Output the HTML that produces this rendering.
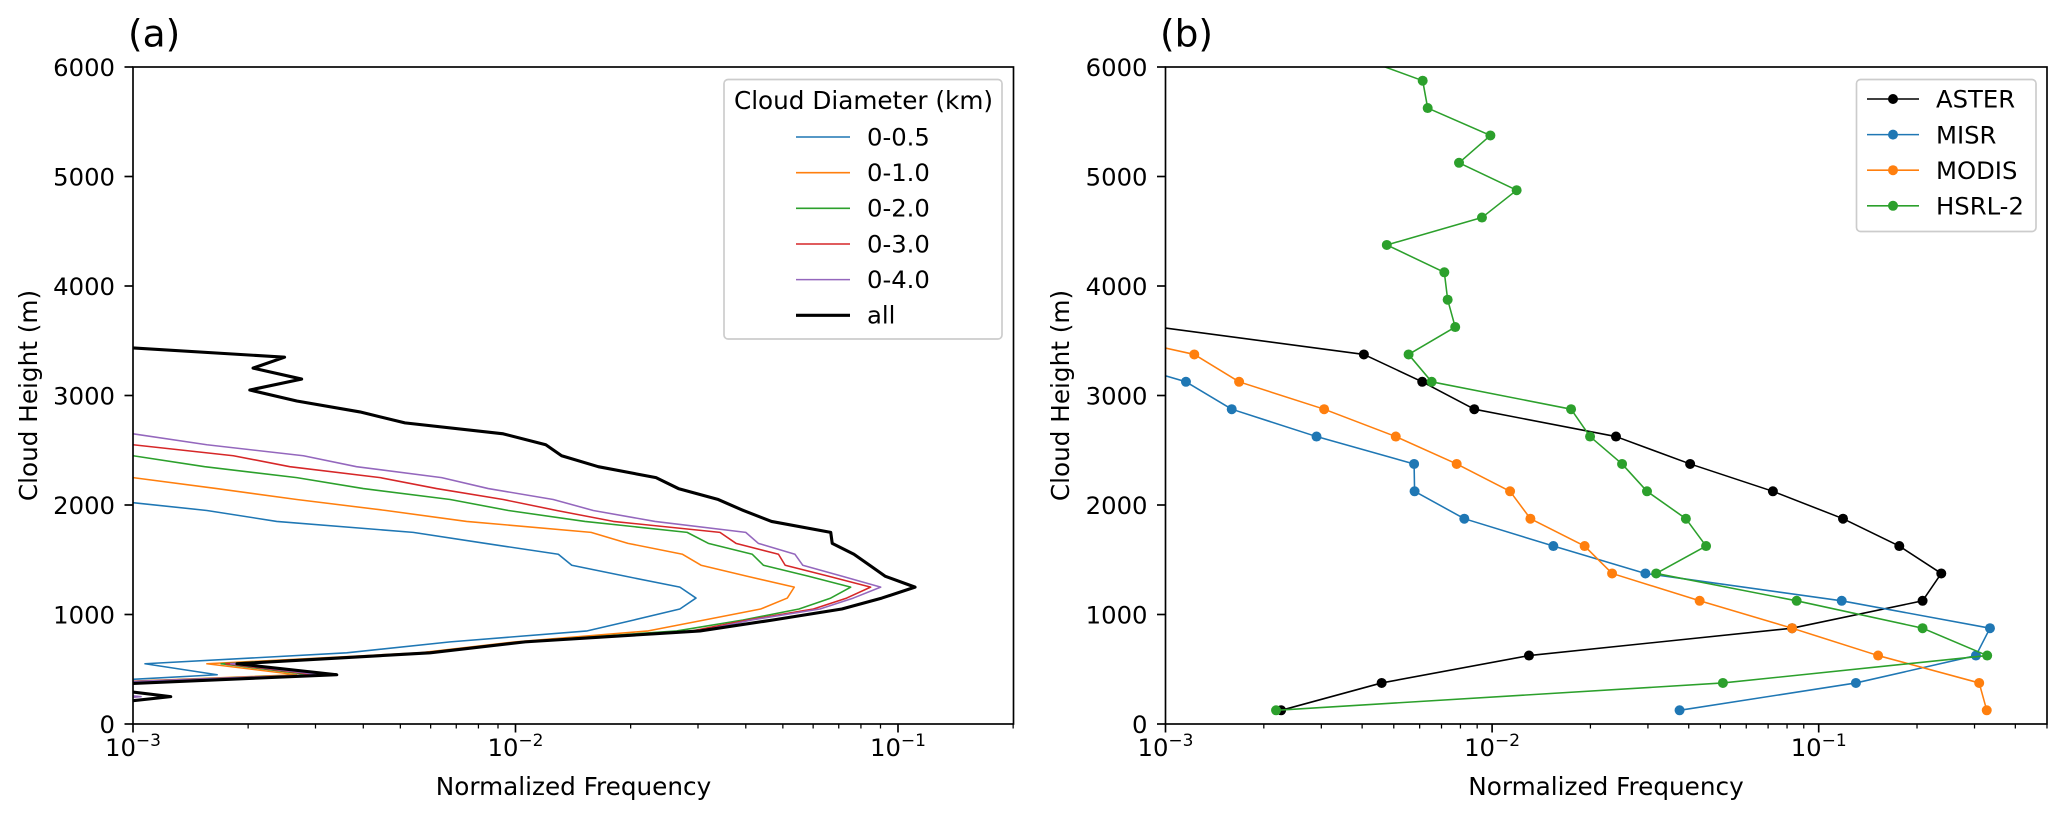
<!DOCTYPE html>
<html lang="en">
<head>
<meta charset="utf-8">
<title>Cloud height frequency distributions</title>
<style>
html,body{margin:0;padding:0;background:#fff;}
svg{display:block;}
text{font-family:"DejaVu Sans","Liberation Sans",sans-serif;fill:#000;}
</style>
</head>
<body>
<svg id="figure" xmlns="http://www.w3.org/2000/svg" width="2067" height="817" viewBox="0 0 2067 817">
  <defs>
    <clipPath id="clip-a"><rect x="133" y="67" width="880.5" height="657"/></clipPath>
    <clipPath id="clip-b"><rect x="1165.5" y="67" width="881.5" height="657"/></clipPath>
  </defs>
  <rect x="0" y="0" width="2067" height="817" fill="#fff"/>
  <g id="panel-a"></g>
  <g id="panel-b"></g>
  <text x="128" y="46.5" font-size="37.5">(a)</text>
  <text x="1160" y="46.5" font-size="37.5">(b)</text>
  <text x="573.5" y="795" font-size="24.7" text-anchor="middle">Normalized Frequency</text>
  <text x="1606" y="795" font-size="24.7" text-anchor="middle">Normalized Frequency</text>
  <text transform="translate(37,395.5) rotate(-90)" font-size="24.7" text-anchor="middle">Cloud Height (m)</text>
  <text transform="translate(1069,395.5) rotate(-90)" font-size="24.7" text-anchor="middle">Cloud Height (m)</text>

  <g>
    <rect x="724" y="79.5" width="278" height="259.5" rx="4" ry="4" fill="#fff" fill-opacity="0.8" stroke="#ccc" stroke-width="1.67"/>
    <text x="863.5" y="109" font-size="24.7" text-anchor="middle">Cloud Diameter (km)</text>
    <g><line x1="796" x2="850" y1="137" y2="137" stroke="#1f77b4" stroke-width="1.56"/><text x="867" y="145.5" font-size="24.3">0-0.5</text></g>
    <g><line x1="796" x2="850" y1="172.7" y2="172.7" stroke="#ff7f0e" stroke-width="1.56"/><text x="867" y="181" font-size="24.3">0-1.0</text></g>
    <g><line x1="796" x2="850" y1="208.3" y2="208.3" stroke="#2ca02c" stroke-width="1.56"/><text x="867" y="216.7" font-size="24.3">0-2.0</text></g>
    <g><line x1="796" x2="850" y1="244" y2="244" stroke="#d62728" stroke-width="1.56"/><text x="867" y="252.3" font-size="24.3">0-3.0</text></g>
    <g><line x1="796" x2="850" y1="279.6" y2="279.6" stroke="#9467bd" stroke-width="1.56"/><text x="867" y="288" font-size="24.3">0-4.0</text></g>
    <g><line x1="796" x2="850" y1="315.3" y2="315.3" stroke="#000" stroke-width="3.1"/><text x="867" y="323.7" font-size="24.3">all</text></g>
  </g>

  <g>
    <rect x="1856.5" y="79.5" width="179.5" height="152" rx="4" ry="4" fill="#fff" fill-opacity="0.8" stroke="#ccc" stroke-width="1.67"/>
    <g><line x1="1867" x2="1919" y1="99" y2="99" stroke="#000" stroke-width="1.56"/><circle cx="1893" cy="99" r="5" fill="#000"/><text x="1936" y="107.7" font-size="24.3">ASTER</text></g>
    <g><line x1="1867" x2="1919" y1="134.6" y2="134.6" stroke="#1f77b4" stroke-width="1.56"/><circle cx="1893" cy="134.6" r="5" fill="#1f77b4"/><text x="1936" y="143.3" font-size="24.3">MISR</text></g>
    <g><line x1="1867" x2="1919" y1="170.2" y2="170.2" stroke="#ff7f0e" stroke-width="1.56"/><circle cx="1893" cy="170.2" r="5" fill="#ff7f0e"/><text x="1936" y="178.9" font-size="24.3">MODIS</text></g>
    <g><line x1="1867" x2="1919" y1="205.8" y2="205.8" stroke="#2ca02c" stroke-width="1.56"/><circle cx="1893" cy="205.8" r="5" fill="#2ca02c"/><text x="1936" y="214.5" font-size="24.3">HSRL-2</text></g>
  </g>
</svg>
<script>
// Panel (a): height bins and frequency per cloud-diameter class (each series starts at the first bin)
const heightBinsA = [150,250,350,450,550,650,750,850,950,1050,1150,1250,1350,1450,1550,1650,1750,1850,1950,2050,2150,2250,2350,2450,2550,2650,2750,2850,2950,3050,3150,3250,3350,3450];
const freq0to05 = [.0004,.0009,.000494,.00166,.001075,.00362,.00675,.0154,.0204,.0269,.02964,.0269,.01933,.01403,.01294,.00832,.0054,.002375,.00156,.000835];
const freq0to10 = [.0004,.00101,.0005,.00268,.00156,.00563,.00997,.02224,.03117,.04375,.05136,.05356,.0402,.03055,.02733,.01968,.01576,.00745,.00459,.00268,.001655,.001,.0006];
const freq0to20 = [.0004,.00102,.0005,.0029,.0017,.0058,.01027,.0264,.03935,.0551,.0667,.0752,.0582,.04446,.0416,.03192,.0281,.01519,.00958,.00675,.004,.00268,.00154,.001,.0006];
const freq0to30 = [.0004,.00103,.0005,.00299,.00175,.0059,.0104,.02894,.04053,.0601,.0734,.0848,.0657,.0507,.0487,.0377,.03424,.01803,.01282,.00929,.00622,.00443,.00257,.00183,.001,.0006];
const freq0to40 = [.0004,.00105,.0005,.00308,.0018,.00594,.0105,.03037,.04146,.0625,.0764,.0901,.0713,.05635,.05378,.04313,.03999,.02316,.01597,.01255,.00849,.00641,.00384,.00279,.00156,.001,.0006];
const freqAll = [.000684,.001255,.000726,.00341,.00187,.00598,.01059,.03037,.0471,.0713,.0907,.1108,.0925,.0843,.0767,.0673,.0667,.0467,.0394,.0339,.02666,.0233,.01646,.0132,.012,.00929,.00514,.00392,.00268,.00202,.00276,.00206,.00249,.00085];

// Panel (b): height bins and frequency per instrument
const heightBinsB = [125,375,625,875,1125,1375,1625,1875,2125,2375,2625,2875,3125,3375,3625,3875,4125,4375,4625,4875,5125,5375,5625,5875,6125];
const freqAster = [.00226,.00459,.01297,.0829,.208,.2373,.1765,.1187,.0724,.0404,.02395,.00882,.00611,.00405,.00095];
const freqMisr = [.0375,.13,.303,.3345,.1176,.02947,.0154,.00822,.00579,.00577,.0029,.001595,.001155,.0006];
const freqModis = [.327,.31,.152,.0829,.0432,.0233,.0192,.0131,.01135,.00779,.00507,.00306,.00168,.001225,.000514];
const freqHsrl = [.00218,.0509,.328,.208,.0856,.0318,.0452,.0392,.0298,.025,.01995,.01745,.00653,.00555,.00771,.00731,.00714,.00476,.00931,.01189,.00792,.00988,.00635,.00613,.00361];

// Axis tick values
const yTicks = [0,1000,2000,3000,4000,5000,6000];
const xMajorExponents = [-3,-2,-1];
const xMinorTicksA = [.002,.003,.004,.005,.006,.007,.008,.009,.02,.03,.04,.05,.06,.07,.08,.09,.2];
const xMinorTicksB = [.002,.003,.004,.005,.006,.007,.008,.009,.02,.03,.04,.05,.06,.07,.08,.09,.2,.3,.4,.5];

const SVG_NS = 'http://www.w3.org/2000/svg';
const Y_BOTTOM = 724, Y_TOP = 67, Y_MAX = 6000;
const axisY = h => Y_BOTTOM - (Y_BOTTOM - Y_TOP) * h / Y_MAX;
const axisXA = v => 133 + 382.5 * (Math.log10(v) + 3);
const axisXB = v => 1165.5 + 326.6 * (Math.log10(v) + 3);

function make(tag, parent) {
  const el = document.createElementNS(SVG_NS, tag);
  parent.appendChild(el);
  return el;
}

function drawLine(parent, heights, values, axisX, color, width, clipId, slug, withMarkers) {
  const group = make('g', parent);
  group.setAttribute('clip-path', 'url(#' + clipId + ')');
  
  
  const pts = values.map((v, i) => axisX(v).toFixed(2) + ',' + axisY(heights[i]).toFixed(2));
  const line = make('polyline', group);
  line.setAttribute('points', pts.join(' '));
  line.setAttribute('fill', 'none');
  line.setAttribute('stroke', color);
  line.setAttribute('stroke-width', width);
  line.setAttribute('stroke-linejoin', 'round');
  
  
  if (withMarkers) {
    values.forEach((v, i) => {
      const dot = make('circle', group);
      dot.setAttribute('cx', axisX(v).toFixed(2));
      dot.setAttribute('cy', axisY(heights[i]).toFixed(2));
      dot.setAttribute('r', 5);
      dot.setAttribute('fill', color);
      
      
    });
  }
}

function drawAxes(parent, axisX, left, right, minorTicks, slug) {
  yTicks.forEach(t => {
    const y = axisY(t);
    const tick = make('line', parent);
    tick.setAttribute('x1', left - 8.5);
    tick.setAttribute('x2', left);
    tick.setAttribute('y1', y);
    tick.setAttribute('y2', y);
    tick.setAttribute('stroke', '#000');
    tick.setAttribute('stroke-width', 1.67);
    
    
    const label = make('text', parent);
    label.setAttribute('x', left - 18);
    label.setAttribute('y', y + 9);
    label.setAttribute('font-size', 24.3);
    label.setAttribute('text-anchor', 'end');
    
    
    label.textContent = String(t);
  });
  minorTicks.forEach(v => {
    const x = axisX(v);
    const tick = make('line', parent);
    tick.setAttribute('x1', x);
    tick.setAttribute('x2', x);
    tick.setAttribute('y1', Y_BOTTOM);
    tick.setAttribute('y2', Y_BOTTOM + 4.5);
    tick.setAttribute('stroke', '#000');
    tick.setAttribute('stroke-width', 1.25);
    
    
  });
  xMajorExponents.forEach(e => {
    const x = axisX(Math.pow(10, e));
    const tick = make('line', parent);
    tick.setAttribute('x1', x);
    tick.setAttribute('x2', x);
    tick.setAttribute('y1', Y_BOTTOM);
    tick.setAttribute('y2', Y_BOTTOM + 8.5);
    tick.setAttribute('stroke', '#000');
    tick.setAttribute('stroke-width', 1.67);
    
    
    const label = make('text', parent);
    label.setAttribute('x', x);
    label.setAttribute('y', 756);
    label.setAttribute('font-size', 24.3);
    label.setAttribute('text-anchor', 'middle');
    
    
    const base = make('tspan', label);
    base.textContent = '10';
    const sup = make('tspan', label);
    sup.setAttribute('dy', -10);
    sup.setAttribute('font-size', 17);
    sup.textContent = '\u2212' + Math.abs(e);
  });
  const frame = make('rect', parent);
  frame.setAttribute('x', left);
  frame.setAttribute('y', Y_TOP);
  frame.setAttribute('width', right - left);
  frame.setAttribute('height', Y_BOTTOM - Y_TOP);
  frame.setAttribute('fill', 'none');
  frame.setAttribute('stroke', '#000');
  frame.setAttribute('stroke-width', 1.67);
  
  
}

const panelA = document.getElementById('panel-a');
const panelB = document.getElementById('panel-b');

drawLine(panelA, heightBinsA, freq0to05, axisXA, '#1f77b4', 1.56, 'clip-a', 'diameter-0-0.5', false);
drawLine(panelA, heightBinsA, freq0to10, axisXA, '#ff7f0e', 1.56, 'clip-a', 'diameter-0-1.0', false);
drawLine(panelA, heightBinsA, freq0to20, axisXA, '#2ca02c', 1.56, 'clip-a', 'diameter-0-2.0', false);
drawLine(panelA, heightBinsA, freq0to30, axisXA, '#d62728', 1.56, 'clip-a', 'diameter-0-3.0', false);
drawLine(panelA, heightBinsA, freq0to40, axisXA, '#9467bd', 1.56, 'clip-a', 'diameter-0-4.0', false);
drawLine(panelA, heightBinsA, freqAll, axisXA, '#000', 3.1, 'clip-a', 'diameter-all', false);
drawAxes(panelA, axisXA, 133, 1013.5, xMinorTicksA, 'panel-a');

drawLine(panelB, heightBinsB, freqAster, axisXB, '#000', 1.56, 'clip-b', 'aster', true);
drawLine(panelB, heightBinsB, freqMisr, axisXB, '#1f77b4', 1.56, 'clip-b', 'misr', true);
drawLine(panelB, heightBinsB, freqModis, axisXB, '#ff7f0e', 1.56, 'clip-b', 'modis', true);
drawLine(panelB, heightBinsB, freqHsrl, axisXB, '#2ca02c', 1.56, 'clip-b', 'hsrl-2', true);
drawAxes(panelB, axisXB, 1165.5, 2047, xMinorTicksB, 'panel-b');
</script>
</body>
</html>
